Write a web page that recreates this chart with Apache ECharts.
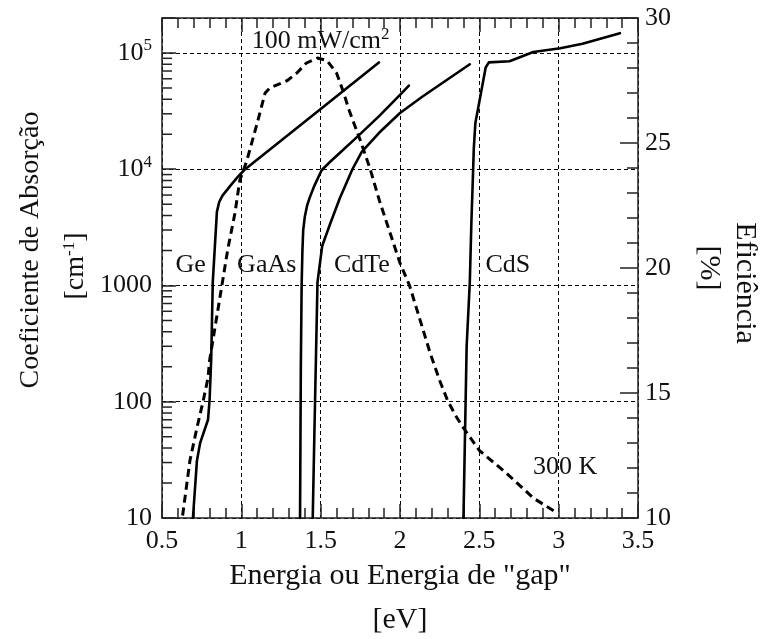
<!DOCTYPE html>
<html>
<head>
<meta charset="utf-8">
<script src="https://cdn.jsdelivr.net/npm/echarts@6/dist/echarts.min.js"></script>
<style>
html,body{margin:0;padding:0;background:#fff;}
#c{width:768px;height:639px;}
</style>
</head>
<body>
<div id="c"></div>
<script>
// Absorption coefficient curves [energy eV, alpha cm^-1]
var ge = [[0.695,10],[0.72,31],[0.74,44],[0.79,70],[0.80,104],[0.81,230],[0.82,1070],[0.846,4300],[0.86,5200],[0.88,5900],[0.93,7200],[0.975,8500],[1.02,9900],[1.5,33000],[1.867,83000]];
var gaas = [[1.37,10],[1.375,200],[1.38,1000],[1.385,2000],[1.39,3000],[1.40,3900],[1.415,4900],[1.431,5700],[1.46,7200],[1.506,9800],[1.56,11600],[1.62,13800],[1.73,19000],[1.87,28800],[2.0,43600],[2.056,52500]];
var cdte = [[1.45,10],[1.46,50],[1.47,230],[1.48,1070],[1.51,2200],[1.56,3400],[1.62,5600],[1.70,10000],[1.76,14200],[1.87,20700],[2.0,30500],[2.14,42000],[2.29,58000],[2.44,80000]];
var cds = [[2.40,10],[2.42,300],[2.44,1070],[2.45,3500],[2.46,9000],[2.465,15000],[2.475,25000],[2.50,38000],[2.54,75000],[2.56,83000],[2.69,85000],[2.84,102000],[3.01,110000],[3.15,120000],[3.386,148000]];
// Efficiency curve [gap eV, efficiency %]
var efficiency = [[0.63,10.1],[0.676,12.3],[0.72,13.6],[0.76,14.7],[0.79,15.6],[0.80,16.3],[0.88,19.4],[0.916,20.8],[0.96,22.2],[0.99,23.5],[1.035,24.3],[1.10,25.8],[1.15,27.0],[1.18,27.2],[1.29,27.5],[1.35,27.8],[1.41,28.2],[1.48,28.4],[1.54,28.3],[1.60,27.8],[1.64,27.1],[1.68,26.3],[1.75,25.1],[1.81,24.0],[1.87,22.7],[2.0,20.2],[2.06,19.3],[2.19,16.6],[2.25,15.5],[2.30,14.7],[2.35,14.1],[2.40,13.6],[2.50,12.7],[2.67,11.8],[2.84,10.8],[2.99,10.2]];
// In-plot labels [x, y(alpha), text]
var labels = [[0.68,1510,'Ge'],[1.16,1510,'GaAs'],[1.76,1510,'CdTe'],[2.68,1510,'CdS'],[3.04,27.5,'300 K'],[1.50,127000,'100 mW/cm{sup|2}']];
// Axis ticks
var xMin = 0.5, xMax = 3.5, xStep = 0.5;
var yLeftMin = 10, yLeftMax = 200000;
var yRightMin = 10, yRightMax = 30, yRightStep = 5;
var minorLogTicks = [];
for (var k = 1; k <= 5; k++) { for (var m = 2; m <= 9; m++) { var v = m * Math.pow(10, k); if (v < yLeftMax) minorLogTicks.push([xMin, v]); } }

var FONT = 'Liberation Serif';
var TXT = '#111';
var chart = echarts.init(document.getElementById('c'), null, {renderer:'canvas'});
var lineStyleSolid = {color:'#000', width:2.6, type:'solid', join:'round', cap:'round'};
function curve(name, data) {
  return {name:name, type:'line', data:data, xAxisIndex:0, yAxisIndex:0, symbol:'none', showSymbol:false,
    lineStyle:lineStyleSolid, z:5, silent:true};
}
var option = {
  animation:false,
  backgroundColor:'#fff',
  grid:{left:162, right:130, top:18, bottom:121, containLabel:false, outerBoundsMode:'none'},
  xAxis:[{
    type:'value', min:xMin, max:xMax, interval:xStep, position:'bottom',
    axisLine:{show:true, onZero:false, lineStyle:{color:'#222', width:1.5}},
    axisTick:{show:true, inside:true, length:14, lineStyle:{color:'#222', width:1.5}},
    minorTick:{show:true, splitNumber:5, length:10, lineStyle:{color:'#222', width:1.5}},
    axisLabel:{show:true, fontFamily:FONT, fontSize:26, color:TXT, margin:10, formatter:function(v){return String(v);}},
    splitLine:{show:true, lineStyle:{color:'#000', width:1, type:[4,3]}}
  },{
    type:'value', min:xMin, max:xMax, interval:xStep, position:'top',
    axisLine:{show:true, onZero:false, lineStyle:{color:'#222', width:1.5}},
    axisTick:{show:true, inside:true, length:14, lineStyle:{color:'#222', width:1.5}},
    minorTick:{show:true, splitNumber:5, length:10, lineStyle:{color:'#222', width:1.5}},
    axisLabel:{show:false}, splitLine:{show:false}
  }],
  yAxis:[{
    type:'log', logBase:10, min:yLeftMin, max:yLeftMax, position:'left',
    axisLine:{show:true, onZero:false, lineStyle:{color:'#222', width:1.5}},
    axisTick:{show:true, inside:true, length:14, lineStyle:{color:'#222', width:1.5}},
    axisLabel:{show:true, fontFamily:FONT, fontSize:26, color:TXT, margin:10,
      formatter:function(v){
        var l = Math.log(v)/Math.LN10, e = Math.round(l);
        if (Math.abs(l-e) > 1e-6) return '';
        if (e <= 3) return String(Math.round(Math.pow(10,e)));
        return '10{sup|' + e + '}';
      },
      rich:{sup:{fontFamily:FONT, fontSize:17, color:TXT, verticalAlign:'top', padding:[0,0,14,0]}}
    },
    splitLine:{show:true, lineStyle:{color:'#000', width:1, type:[4,3]}}
  },{
    type:'value', min:yRightMin, max:yRightMax, interval:yRightStep, position:'right',
    axisLine:{show:true, onZero:false, lineStyle:{color:'#222', width:1.5}},
    axisTick:{show:true, inside:true, length:18, lineStyle:{color:'#222', width:1.5}},
    minorTick:{show:true, splitNumber:5, length:11, lineStyle:{color:'#222', width:1.5}},
    axisLabel:{show:true, fontFamily:FONT, fontSize:26, color:TXT, margin:7},
    splitLine:{show:false}
  }],
  series:[
    {
      name:'minorLogTicks', type:'custom', xAxisIndex:0, yAxisIndex:0, data:minorLogTicks, silent:true, z:3, clip:false,
      renderItem:function(params, api){
        var p = api.coord([api.value(0), api.value(1)]);
        return {type:'line', shape:{x1:p[0], y1:p[1], x2:p[0]+10, y2:p[1]}, style:{stroke:'#222', lineWidth:1.5}};
      }
    },
    curve('Ge', ge), curve('GaAs', gaas), curve('CdTe', cdte), curve('CdS', cds),
    {name:'Eficiência', type:'line', data:efficiency, xAxisIndex:0, yAxisIndex:1, symbol:'none', showSymbol:false,
      lineStyle:{color:'#000', width:3, type:[8,5], join:'round'}, z:4, silent:true},
    {name:'labels', type:'scatter', xAxisIndex:0, yAxisIndex:0, symbolSize:0, data:labels, silent:true, z:6,
      itemStyle:{color:'#000', opacity:1},
      label:{show:true, position:'inside', fontFamily:FONT, fontSize:26, color:TXT, textBorderWidth:0, textBorderColor:'transparent', opacity:1,
        formatter:function(p){return p.value[2];},
        rich:{sup:{fontFamily:FONT, fontSize:17, color:TXT, textBorderWidth:0, verticalAlign:'top', padding:[0,0,12,0]}}}
    }
  ],
  graphic:[
    {type:'text', x:31, y:250, rotation:Math.PI/2, style:{text:'Coeficiente de Absorção', font:'28px "Liberation Serif"', fill:TXT, textAlign:'center', textVerticalAlign:'middle'}},
    {type:'text', x:76, y:266, rotation:Math.PI/2, style:{text:'[cm{sup|-1}]', font:'28px "Liberation Serif"', fill:TXT, textAlign:'center', textVerticalAlign:'middle',
      rich:{sup:{font:'17px "Liberation Serif"', fill:TXT, verticalAlign:'top', padding:[0,0,12,0]}}}},
    {type:'text', x:400, y:576, style:{text:'Energia ou Energia de "gap"', font:'30px "Liberation Serif"', fill:TXT, textAlign:'center', textVerticalAlign:'middle'}},
    {type:'text', x:400, y:620, style:{text:'[eV]', font:'30px "Liberation Serif"', fill:TXT, textAlign:'center', textVerticalAlign:'middle'}},
    {type:'text', x:745, y:283, rotation:-Math.PI/2, style:{text:'Eficiência', font:'30px "Liberation Serif"', fill:TXT, textAlign:'center', textVerticalAlign:'middle'}},
    {type:'text', x:709, y:268, rotation:-Math.PI/2, style:{text:'[%]', font:'30px "Liberation Serif"', fill:TXT, textAlign:'center', textVerticalAlign:'middle'}}
  ]
};
chart.setOption(option);
</script>
</body>
</html>
